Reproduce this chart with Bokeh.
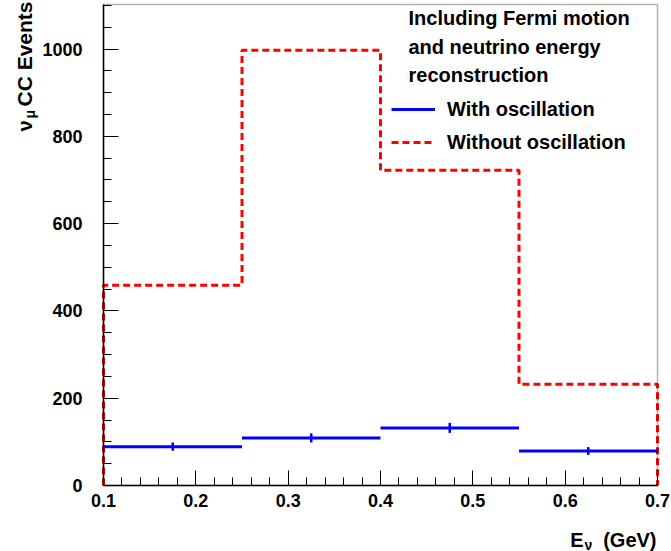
import math
from bokeh.plotting import figure
from bokeh.models import (ColumnDataSource, Label, Legend, LegendItem, BoxAnnotation,
                          SingleIntervalTicker, FixedTicker, Range1d)
from bokeh.embed import file_html
from bokeh.resources import INLINE

# ---- data ----
bin_edges = [0.1, 0.25, 0.4, 0.55, 0.7]
without_osc = [459, 997, 722, 232]
with_osc = [89, 109, 132, 79]
with_osc_err = [9.4, 10.4, 11.5, 8.9]

x_ticks = [0.1, 0.2, 0.3, 0.4, 0.5, 0.6, 0.7]
y_max = 1102

header_lines = ["Including Fermi motion", "and neutrino energy", "reconstruction"]
legend_labels = ["With oscillation", "Without oscillation"]

FONT = "Liberation Sans"
W, H = 671, 551
FL, FR, FT, FB = 103, 657, 4, 485   # visible plot box, screen px

# data ranges chosen so the whole canvas is the frame and the plot box sits at FL..FR, FT..FB
x0, x1 = bin_edges[0], bin_edges[-1]
xs = (x1 - x0) / (FR - FL)
ys = y_max / (FB - FT)
p = figure(width=W, height=H, output_backend="svg", toolbar_location=None,
           x_range=Range1d(x0 - FL * xs, x1 + (W - FR) * xs),
           y_range=Range1d(-(H - FB) * ys, y_max + FT * ys),
           min_border=0)
p.grid.visible = False
p.background_fill_color = "white"
p.border_fill_color = "white"
p.outline_line_color = None

# ---- step histogram (without oscillation) ----
sx, sy = [bin_edges[0]], [0]
for i, v in enumerate(without_osc):
    sx += [bin_edges[i], bin_edges[i + 1]]
    sy += [v, v]
sx.append(bin_edges[-1]); sy.append(0)
red = p.line(sx, sy, line_color="#ff0000", line_width=3, line_dash="7 4")

# ---- with oscillation: horizontal bins + error bars ----
centers = [(a + b) / 2 for a, b in zip(bin_edges[:-1], bin_edges[1:])]
src = ColumnDataSource(dict(x0=bin_edges[:-1], x1=bin_edges[1:], y=with_osc,
                            xc=centers,
                            lo=[v - e for v, e in zip(with_osc, with_osc_err)],
                            hi=[v + e for v, e in zip(with_osc, with_osc_err)]))
blue = p.segment(x0="x0", y0="y", x1="x1", y1="y", source=src,
                 line_color="#0000ff", line_width=3)
p.segment(x0="xc", y0="lo", x1="xc", y1="hi", source=src,
          line_color="#0000ff", line_width=2.5)

# ---- plot box ----
p.add_layout(BoxAnnotation(left=x0, right=x1, bottom=0, top=y_max,
                           fill_alpha=0, line_color="black", line_width=1.5))

# ---- axes ----
minor_x = [x_ticks[0] + j * (x_ticks[1] - x_ticks[0]) / 5 for j in range(31)]
p.xaxis.ticker = FixedTicker(ticks=x_ticks, minor_ticks=minor_x)
p.yaxis.ticker = SingleIntervalTicker(interval=200, num_minor_ticks=4)
p.xaxis.fixed_location = 0
p.yaxis.fixed_location = x0
p.xaxis.bounds = (x0, x1)
p.yaxis.bounds = (0, y_max)
for ax in (p.xaxis, p.yaxis):
    ax.level = "overlay"
    ax.major_tick_in = 15
    ax.major_tick_out = 0
    ax.minor_tick_in = 8
    ax.minor_tick_out = 0
    ax.axis_line_width = 1.5
    ax.major_tick_line_color = "black"
    ax.minor_tick_line_color = "black"
    ax.axis_line_color = "black"
    ax.major_label_text_font = FONT
    ax.major_label_text_font_style = "bold"
    ax.major_label_text_font_size = "18px"
    ax.major_label_text_color = "black"
p.yaxis.major_label_standoff = 21
p.xaxis.major_label_standoff = 8

def lab(text, X, Y, size="20px", angle=0, align="left"):
    p.add_layout(Label(x=X, y=H - Y, x_units="screen", y_units="screen",
                       text=text, text_font=FONT, text_font_style="bold",
                       text_font_size=size, text_color="black", angle=angle,
                       text_align=align, text_baseline="alphabetic"))

# y title: nu_mu CC Events (rotated)
lab("\u03bd", 24, 131, angle=math.pi / 2)
lab("\u03bc", 29, 118, size="14px", angle=math.pi / 2)
lab("CC Events", 24, 106, size="21px", angle=math.pi / 2)

# x title: E_nu (GeV)
lab("E", 583, 539, align="right")
lab("\u03bd", 584, 544, size="14px")
lab("(GeV)", 656, 539, align="right")

# header text
for txt, Y in zip(header_lines, [17, 46, 74]):
    lab(txt, 408, Y)

legend = Legend(items=[LegendItem(label=legend_labels[0], renderers=[blue]),
                       LegendItem(label=legend_labels[1], renderers=[red])],
                location=(391, H - 153.5), orientation="vertical",
                glyph_width=44, glyph_height=20, label_height=20,
                label_standoff=12, spacing=10, padding=0, margin=0,
                border_line_color=None, background_fill_alpha=0,
                label_text_font=FONT, label_text_font_style="bold",
                label_text_font_size="20px", label_text_color="black",
                label_text_baseline="alphabetic")
p.add_layout(legend, "center")

open("out.html", "w").write(file_html(p, INLINE))
